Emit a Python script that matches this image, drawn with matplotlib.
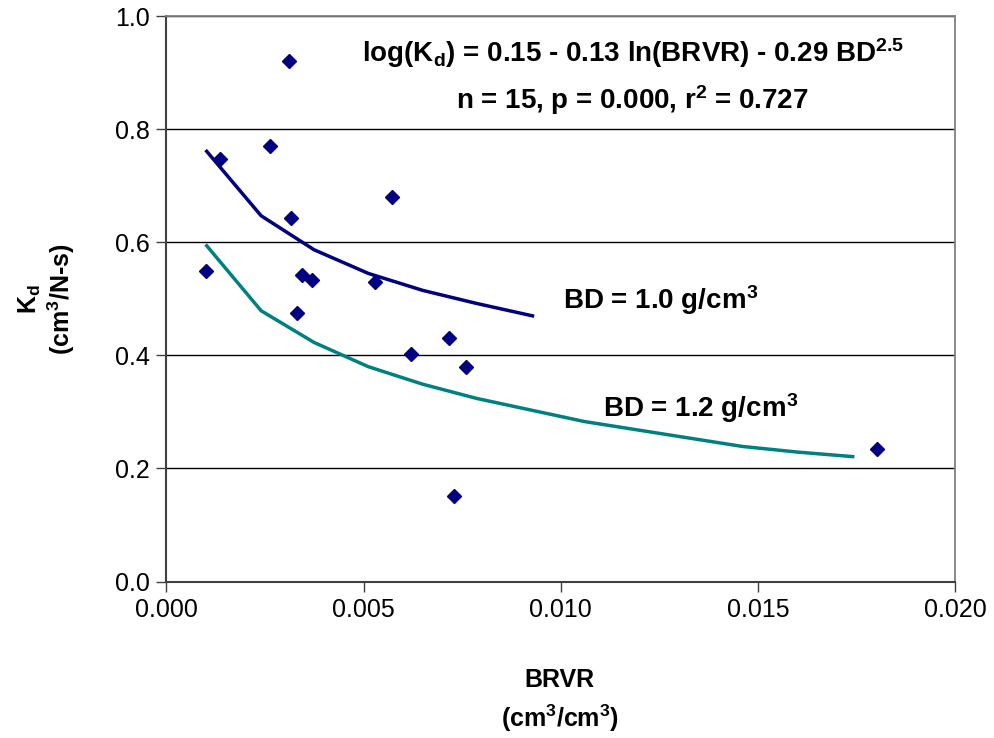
import matplotlib
matplotlib.use("Agg")
import matplotlib.pyplot as plt

plt.rcParams['font.family'] = ['Liberation Sans', 'DejaVu Sans']
plt.rcParams['mathtext.fontset'] = 'custom'
plt.rcParams['mathtext.bf'] = 'Liberation Sans:bold'
plt.rcParams['mathtext.rm'] = 'Liberation Sans:bold'
plt.rcParams['mathtext.default'] = 'bf'

# measured points
brvr = [0.00100, 0.00136, 0.00262, 0.00310, 0.00315, 0.00332, 0.00343, 0.00370,
        0.00528, 0.00571, 0.00620, 0.00717, 0.00728, 0.00760, 0.01801]
kd = [0.549, 0.747, 0.771, 0.921, 0.643, 0.475, 0.542, 0.534,
      0.530, 0.680, 0.403, 0.430, 0.151, 0.380, 0.234]

# model curves
bd10_x = [0.00102, 0.0024, 0.00374, 0.00512, 0.0065, 0.00786, 0.00928]
bd10_y = [0.761, 0.647, 0.587, 0.545, 0.515, 0.492, 0.470]
bd12_x = [0.00102, 0.0024, 0.00374, 0.00512, 0.0065, 0.00786, 0.0106, 0.0146, 0.0160, 0.0174]
bd12_y = [0.594, 0.479, 0.423, 0.380, 0.349, 0.324, 0.283, 0.239, 0.229, 0.221]

fig = plt.figure(figsize=(9.94, 7.38), dpi=100)
ax = fig.add_axes([0.1675, 0.212, 0.7935, 0.766])

ax.plot(bd10_x, bd10_y, color='#000080', lw=2.5, zorder=3)
ax.plot(bd12_x, bd12_y, color='#008080', lw=2.5, zorder=3)
ax.plot(brvr, kd, 'D', color='#000080', markersize=7.5, zorder=4)

ax.set_xlim(0, 0.020)
ax.set_ylim(0, 1.0)
ax.set_xticks([0.000, 0.005, 0.010, 0.015, 0.020])
ax.set_xticklabels(['0.000', '0.005', '0.010', '0.015', '0.020'])
ax.set_yticks([0.0, 0.2, 0.4, 0.6, 0.8, 1.0])
ax.set_yticklabels(['0.0', '0.2', '0.4', '0.6', '0.8', '1.0'])
ax.tick_params(labelsize=18, length=7, width=1, color='#404040', pad=5)
ax.grid(axis='y', color='black', lw=1)
ax.set_axisbelow(True)
for s in ['top', 'right']:
    ax.spines[s].set_color('#808080')
    ax.spines[s].set_linewidth(1.3)
for s in ['left', 'bottom']:
    ax.spines[s].set_color('#404040')
    ax.spines[s].set_linewidth(1.5)

ax.text(0.01182, 0.934, r'log(K$_d$) = 0.15 - 0.13 ln(BRVR) - 0.29 BD$^{2.5}$',
        fontsize=20, fontweight='bold', ha='center', va='center')
ax.text(0.01182, 0.852, r'n = 15, p = 0.000, r$^2$ = 0.727',
        fontsize=20, fontweight='bold', ha='center', va='center')
ax.text(0.01006, 0.498, r'BD = 1.0 g/cm$^3$', fontsize=20, fontweight='bold',
        ha='left', va='center')
ax.text(0.01108, 0.307, r'BD = 1.2 g/cm$^3$', fontsize=20, fontweight='bold',
        ha='left', va='center')

fig.text(0.047, 0.595, r'K$_d$' + '\n' + r'(cm$^3$/N-s)', rotation=90, fontsize=18,
         fontweight='bold', ha='center', va='center', linespacing=1.1)
fig.text(0.563, 0.05, 'BRVR\n' + r'(cm$^3$/cm$^3$)', fontsize=18,
         fontweight='bold', ha='center', va='center', linespacing=1.45)

fig.savefig('out.png', dpi=100)
